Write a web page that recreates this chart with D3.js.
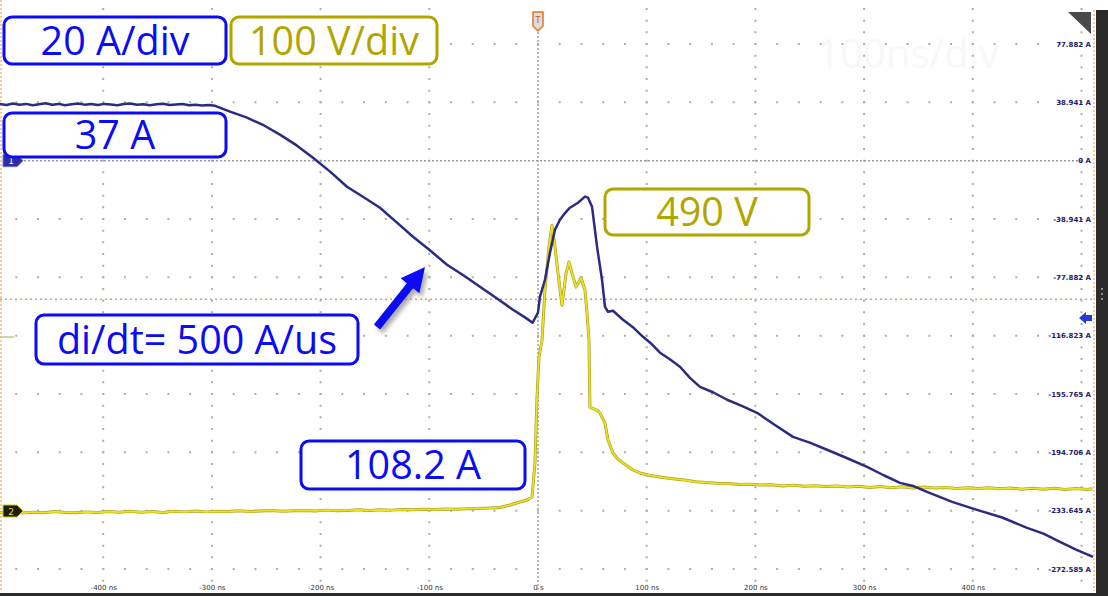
<!DOCTYPE html>
<html>
<head>
<meta charset="utf-8">
<script src="https://cdn.jsdelivr.net/npm/d3@7"></script>
<style>
  html, body { margin: 0; padding: 0; background: #fff; overflow: hidden; }
  svg { display: block; }
</style>
</head>
<body>
<script>
// scope screen size
var width = 1108,
    height = 596;

// time axis (ns)
var timeTicks = [-400, -300, -200, -100, 0, 100, 200, 300, 400];
var timeTickLabels = ["-400 ns", "-300 ns", "-200 ns", "-100 ns", "0 s", "100 ns", "200 ns", "300 ns", "400 ns"];

// current axis (A), as printed on the right edge
var currentTicks = [77.882, 38.941, 0, -38.941, -77.882, -116.823, -155.765, -194.706, -233.647, -272.588];
var currentTickLabels = ["77.882 A", "38.941 A", "0 A", "-38.941 A", "-77.882 A", "-116.823 A", "-155.765 A", "-194.706 A", "-233.645 A", "-272.585 A"];

// channel 1 : current (A)
var currentTime = [-495, -489, -483, -477, -471, -465, -459, -453, -447, -441, -435, -429, -423, -417, -411, -405,
  -399, -393, -387, -381, -375, -369, -363, -357, -351, -345, -339, -333, -327, -321, -315, -309, -303, -297,
  -283.3, -267.7, -252, -237.4, -222, -207, -191, -175.7, -160, -145.4, -130, -115, -100, -83.7, -68, -53.4, -38, -23, -12, -5,
  0, 1.8, 6.4, 11, 15.6, 20.2, 25, 29.4, 36.8, 43.2, 46, 49.7, 54.3, 58.9, 61.6, 64.4, 69, 78.2, 87, 96.6, 104, 112.2,
  121, 130.6, 140, 149, 161, 173.9, 188, 201.5, 218, 234.6, 250, 265.9, 284, 302.7, 318, 333, 346, 357.9, 381, 403.9,
  427, 449.9, 465, 480.2, 495, 510.6];
var currentValues = [37.8, 37.2, 38.1, 37.4, 37.9, 37.0, 37.7, 38.3, 37.3, 37.9, 37.0, 37.6, 38.2, 37.4, 37.8, 37.1,
  37.9, 37.5, 37.0, 37.8, 38.1, 37.3, 37.7, 37.0, 37.6, 38.0, 37.2, 37.5, 37.8, 37.0, 37.4, 36.9, 37.2, 36.6,
  32.7, 28.7, 23.5, 17.4, 10.2, 2.0, -7.5, -17.4, -24.6, -31.4, -41.2, -50.8, -59.5, -69.5, -76.8, -84.2, -91.9, -99.5, -104.6, -108.2,
  -101.5, -90.8, -79.5, -61.5, -46.1, -39.4, -34.8, -31.4, -28.1, -24.0, -24.7, -30.7, -57.4, -79.5, -97.5, -100.9, -100.2, -106.2, -111.0, -117.6, -122.0, -128.2,
  -132.4, -137.6, -145.2, -151.0, -154.6, -159.6, -163.8, -168.3, -176.4, -184.4, -188.2, -193.0, -198.5, -204.4, -210.0, -215.1, -217.4, -221.1, -227.8, -233.1,
  -238.2, -245.1, -249.0, -254.5, -259.6, -264.5];

// channel 2 : voltage (V)
var voltageTime = [-495, -485, -475, -465, -455, -445, -435, -425, -415, -405, -395, -385, -375, -365, -355, -345,
  -335, -325, -315, -305, -295, -285, -275, -265, -255, -245, -235, -225, -215, -205, -195, -185, -175, -165,
  -155, -145, -135, -125, -115, -105, -95, -85, -75, -65, -55, -45, -35, -25.8, -16.6, -10.1, -5.5, -2.8, -0.9, 0.9,
  3.7, 6.4, 10.1, 12.9, 15.6, 18.4, 22.1, 25.8, 28.5, 31.3, 35, 39.6, 43.2, 45.1, 46.9, 47.8, 50, 54.3, 57, 61.6,
  64.4, 69, 73, 78.2, 86, 93.8, 103, 112.2, 120, 128, 135, 145, 155, 165, 175, 185, 195, 205, 215, 225, 235, 245,
  255, 265, 275, 285, 295, 305, 315, 325, 335, 345, 355, 365, 375, 385, 395, 405, 415, 425, 435, 445, 455, 465,
  475, 485, 495, 505, 510];
var voltageValues = [-3, -1.5, -3.5, -2, -3, -1, -2.5, -3, -1.5, -2.5, -1, -2, -0.5, -2, -1, -2.5,
  -0.5, -1.5, 0, -1.5, -0.5, -1, 0.5, -1, 0, 1, -0.5, 0.5, 1, 0, 1.5, 0.5, 1, 2,
  1, 2, 1.5, 2.5, 2, 3, 2.5, 3.5, 3, 4, 4.5, 5, 6, 10.3, 15.4, 18.9, 24, 82, 195, 264,
  293, 379, 453, 490, 453, 408, 353, 408, 427, 408, 384, 400, 379, 340, 293, 178, 176, 173, 168, 151,
  122, 99.5, 90, 82.3, 72, 65.2, 61, 58.3, 56, 54.5, 53, 50, 49, 47.5, 47, 45.5, 46, 44.5, 45, 43, 44, 42.5,
  43.5, 42, 43, 41, 42.5, 40.5, 42, 40, 41.5, 39.5, 41, 39.5, 40.5, 38.5, 40, 38.5, 40, 38, 39.5, 37.5, 39, 37.5,
  39, 37, 38.5, 37, 38];

// annotations
var boxLabels = ["20 A/div", "100 V/div", "37 A", "di/dt= 500 A/us", "108.2 A", "490 V"];
var boxChannel = [1, 2, 1, 1, 1, 2];
var triggerLevel = -92.5; // A

var blue = "#0b0bf5", olive = "#b3a500";

var svg = d3.select("body")
  .append("svg")
    .attr("width", width)
    .attr("height", height);

// scales
var x = d3.scaleLinear().domain([-500, 500]).range([-5.5, 1081.5]);
var yI = d3.scaleLinear().domain([77.882, -272.588]).range([44, 569]);
var yV = d3.scaleLinear().domain([0, 500]).range([511, 219.5]);

var defs = svg.append("defs");
defs.append("filter").attr("id", "shadow")
  .append("feGaussianBlur").attr("stdDeviation", 2);

// faint watermark
svg.append("text")
  .attr("x", 908).attr("y", 68)
  .attr("text-anchor", "middle")
  .style("font-family", "Open Sans")
  .style("font-size", "40px")
  .attr("fill", "#f8f8f8")
  .text("100ns/div");

// grid
var gridTimes = timeTicks.filter(function(d) { return d !== 0; }).concat([500]);
var divY = yI(0) - yI(38.941);
var divX = x(100) - x(0);
svg.append("g").selectAll("line")
  .data(gridTimes)
  .enter().append("line")
    .attr("x1", function(d) { return x(d); })
    .attr("x2", function(d) { return x(d); })
    .attr("y1", yI(77.882) - 3 * divY / 5 - 1)
    .attr("y2", 590)
    .attr("stroke", "#adadad")
    .attr("stroke-width", 2)
    .attr("stroke-dasharray", "2," + (divY / 5 - 2));

svg.append("g").selectAll("line")
  .data(currentTicks.filter(function(d) { return d !== 0; }))
  .enter().append("line")
    .attr("x1", x(-500) - 1)
    .attr("x2", 1093)
    .attr("y1", function(d) { return yI(d); })
    .attr("y2", function(d) { return yI(d); })
    .attr("stroke", "#adadad")
    .attr("stroke-width", 2)
    .attr("stroke-dasharray", "2," + (divX / 5 - 2));

// center vertical line
svg.append("line")
  .attr("x1", x(0)).attr("x2", x(0))
  .attr("y1", 32).attr("y2", 590)
  .attr("stroke", "#a5a5a5").attr("stroke-width", 1.5)
  .attr("stroke-dasharray", "2,2");

// channel 1 zero line
svg.append("line")
  .attr("x1", 24).attr("x2", 1083)
  .attr("y1", yI(0)).attr("y2", yI(0))
  .attr("stroke", "#999").attr("stroke-width", 1.5)
  .attr("stroke-dasharray", "2,2");

// trigger level line
svg.append("line")
  .attr("x1", 0).attr("x2", 1093)
  .attr("y1", yI(triggerLevel)).attr("y2", yI(triggerLevel))
  .attr("stroke", "#c9a383").attr("stroke-width", 1.5)
  .attr("stroke-dasharray", "2,3");

// orange borders
svg.append("line").attr("x1", 1).attr("x2", 1).attr("y1", 0).attr("y2", 591)
  .attr("stroke", "#f2b980").attr("stroke-width", 1.5).attr("stroke-dasharray", "2,2");
svg.append("line").attr("x1", 1094).attr("x2", 1094).attr("y1", 10).attr("y2", 591)
  .attr("stroke", "#f2b980").attr("stroke-width", 1.5).attr("stroke-dasharray", "2,2");

// axes
var bottomAxis = svg.append("g")
  .attr("transform", "translate(0,582)")
  .call(d3.axisBottom(x).tickValues(timeTicks).tickSize(0).tickPadding(3)
    .tickFormat(function(d, i) { return timeTickLabels[i]; }));
bottomAxis.select(".domain").remove();
bottomAxis.selectAll("text")
  .style("font-family", "DejaVu Sans")
  .style("font-size", "7px")
  .attr("fill", "#333");

var rightAxis = svg.append("g")
  .attr("transform", "translate(1091,0)")
  .call(d3.axisLeft(yI).tickValues(currentTicks).tickSize(0).tickPadding(0)
    .tickFormat(function(d, i) { return currentTickLabels[i]; }));
rightAxis.select(".domain").remove();
rightAxis.selectAll("text")
  .style("font-family", "DejaVu Sans")
  .style("font-size", "7px")
  .style("font-weight", "bold")
  .attr("fill", "#1c1c6e");

// traces
var currentLine = d3.line()
  .x(function(d, i) { return x(currentTime[i]); })
  .y(function(d) { return yI(d); });
var voltageLine = d3.line()
  .x(function(d, i) { return x(voltageTime[i]); })
  .y(function(d) { return yV(d); });

svg.append("path")
  .datum(voltageValues)
  .attr("d", voltageLine)
  .attr("fill", "none")
  .attr("stroke", "#a89f2c")
  .attr("stroke-width", 3)
  .attr("stroke-linejoin", "round");
svg.append("path")
  .datum(voltageValues)
  .attr("d", voltageLine)
  .attr("fill", "none")
  .attr("stroke", "#f0e31c")
  .attr("stroke-width", 1.7)
  .attr("stroke-linejoin", "round");

svg.append("path")
  .datum(currentValues)
  .attr("d", currentLine)
  .attr("fill", "none")
  .attr("stroke", "#2b2b82")
  .attr("stroke-width", 2.5)
  .attr("stroke-linejoin", "round");

// channel markers
svg.append("path")
  .attr("d", "M3," + (yI(0) - 6) + "h14l6,6l-6,6h-14z")
  .attr("fill", "#2c2ca4").attr("stroke", "#7070c8");
svg.append("text").attr("x", 11).attr("y", yI(0) + 3.5)
  .attr("text-anchor", "middle").style("font-family", "DejaVu Sans").style("font-size", "9px")
  .attr("fill", "#fff").text("1");
svg.append("path")
  .attr("d", "M3," + (yV(0) - 6) + "h14l6,6l-6,6h-14z")
  .attr("fill", "#1d1d10").attr("stroke", "#d0c400");
svg.append("text").attr("x", 11).attr("y", yV(0) + 3.5)
  .attr("text-anchor", "middle").style("font-family", "DejaVu Sans").style("font-size", "9px")
  .attr("fill", "#e6dc30").text("2");
svg.append("line").attr("x1", 0).attr("x2", 14).attr("y1", 337).attr("y2", 337)
  .attr("stroke", "#c9c58a").attr("stroke-width", 1.5);
svg.append("path")
  .attr("d", "M1079,318l7,-6v3h6v6h-6v3z")
  .attr("fill", "#2838d8");

// trigger position marker
svg.append("path")
  .attr("d", "M" + (x(0) - 5) + ",12h10v14l-5,5l-5,-5z")
  .attr("fill", "#ddd").attr("stroke", "#e8761e").attr("stroke-width", 1.5);
svg.append("text").attr("x", x(0)).attr("y", 23)
  .attr("text-anchor", "middle").style("font-family", "DejaVu Sans").style("font-size", "8px")
  .attr("fill", "#c05a10").text("T");

// frame bars
svg.append("rect").attr("x", 1096).attr("y", 10).attr("width", 12).attr("height", 586).attr("fill", "#2b2b2b");
svg.append("rect").attr("x", 0).attr("y", 593).attr("width", 1108).attr("height", 3).attr("fill", "#2b2b2b");
svg.selectAll(".grip").data([289, 294, 299]).enter().append("circle")
  .attr("cx", 1102).attr("cy", function(d) { return d; }).attr("r", 0.9).attr("fill", "#bbb");
svg.append("path").attr("d", "M1068,12H1091V34z").attr("fill", "#4a4a4a");

// annotation boxes
var boxRect = [[4, 17, 222, 47], [231, 17, 206, 47], [4, 113, 222, 44], [36, 315, 322, 49], [301, 441, 224, 48], [605, 189, 204, 46]];
var boxes = svg.append("g").selectAll("g")
  .data(boxLabels)
  .enter().append("g");
boxes.append("rect")
  .attr("x", function(d, i) { return boxRect[i][0]; })
  .attr("y", function(d, i) { return boxRect[i][1]; })
  .attr("width", function(d, i) { return boxRect[i][2]; })
  .attr("height", function(d, i) { return boxRect[i][3]; })
  .attr("rx", 8)
  .attr("fill", "#fff")
  .attr("stroke", function(d, i) { return boxChannel[i] === 1 ? blue : olive; })
  .attr("stroke-width", 3);
boxes.append("text")
  .attr("x", function(d, i) { return boxRect[i][0] + boxRect[i][2] / 2; })
  .attr("y", function(d, i) { return boxRect[i][1] + boxRect[i][3] / 2 + 14; })
  .attr("text-anchor", "middle")
  .style("font-family", "Open Sans")
  .style("font-size", "39.5px")
  .attr("fill", function(d, i) { return boxChannel[i] === 1 ? blue : olive; })
  .text(function(d) { return d; });

// di/dt arrow
var arrowStart = [377, 327], arrowTip = [425, 267];
function arrowPath(s, t) {
  var dx = t[0] - s[0], dy = t[1] - s[1], len = Math.sqrt(dx * dx + dy * dy);
  var ux = dx / len, uy = dy / len, px = -uy, py = ux;
  var bx = t[0] - 24 * ux, by = t[1] - 24 * uy;
  return "M" + (s[0] + px * 4) + "," + (s[1] + py * 4) +
    "L" + (bx + px * 4) + "," + (by + py * 4) +
    "L" + (bx + px * 12) + "," + (by + py * 12) +
    "L" + t[0] + "," + t[1] +
    "L" + (bx - px * 12) + "," + (by - py * 12) +
    "L" + (bx - px * 4) + "," + (by - py * 4) +
    "L" + (s[0] - px * 4) + "," + (s[1] - py * 4) + "Z";
}
svg.append("path")
  .attr("d", arrowPath(arrowStart, arrowTip))
  .attr("transform", "translate(3,4)")
  .attr("fill", "#777")
  .attr("opacity", 0.6)
  .attr("filter", "url(#shadow)");
svg.append("path")
  .attr("d", arrowPath(arrowStart, arrowTip))
  .attr("fill", blue);
</script>
</body>
</html>
